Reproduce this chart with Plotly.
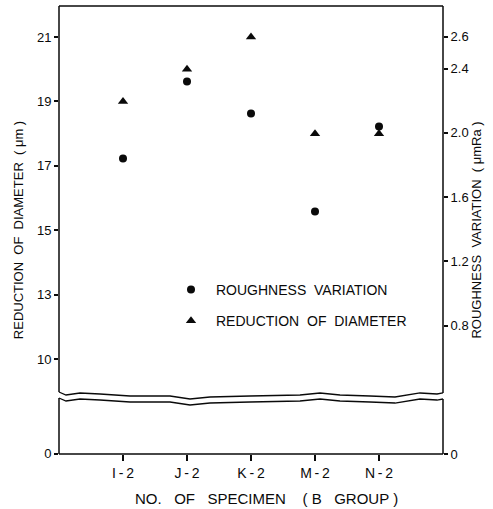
import plotly.graph_objects as go

specimens = ["I-2", "J-2", "K-2", "M-2", "N-2"]
specimen_labels = ["I\u2009-\u20092", "J\u2009-\u20092", "K\u2009-\u20092", "M\u2009-\u20092", "N\u2009-\u20092"]
diameter = [19, 20, 21, 18, 18]            # reduction of diameter (um), left axis
roughness = [1.84, 2.32, 2.12, 1.51, 2.04]  # roughness variation (umRa), right axis

left_ticks = [21, 19, 17, 15, 13, 11, 8.07]
left_text = ["21", "19", "17", "15", "13", "10", "0"]
right_ticks = [2.6, 2.4, 2.0, 1.6, 1.2, 0.8, 0.0]
right_text = ["2.6", "2.4", "2.0", "1.6", "1.2", "0.8", "0"]

FONT = "Liberation Sans"
INK = "#0a0a0a"

# plot area in pixels (for placing decorations)
L, R, T, B = 59, 443, 6, 454


def px(x):
    return (x - L) / (R - L)


def py(y):
    return (B - y) / (B - T)


fig = go.Figure()
fig.add_trace(go.Scatter(
    x=specimens, y=roughness, yaxis="y2", mode="markers",
    name="ROUGHNESS\u00a0 VARIATION", legendgroup="a",
    marker=dict(symbol="circle", size=8, color=INK),
))
fig.add_trace(go.Scatter(
    x=specimens, y=diameter, mode="markers",
    name="REDUCTION\u00a0 OF\u00a0 DIAMETER", legendgroup="b",
    marker=dict(symbol="triangle-up", size=9, color=INK),
))

# frame + axis break (wavy double line)
wave = [(59, 392), (66, 395), (80, 393), (100, 394), (130, 396), (170, 396),
        (190, 399), (210, 397), (250, 396), (300, 395), (320, 393), (340, 395),
        (370, 396), (395, 397), (420, 393), (437, 394), (443, 393)]
gap = 6


def wave_path(dy):
    pts = [f"{px(x):.4f},{py(y + dy):.4f}" for x, y in wave]
    return "M " + " L ".join(pts)


line = dict(color=INK, width=1.5)
shapes = [
    dict(type="line", xref="paper", yref="paper", x0=0, x1=1, y0=1, y1=1, line=line),
    dict(type="line", xref="paper", yref="paper", x0=0, x1=1, y0=0, y1=0, line=line),
    dict(type="line", xref="paper", yref="paper", x0=0, x1=0, y0=1, y1=py(392), line=line),
    dict(type="line", xref="paper", yref="paper", x0=0, x1=0, y0=py(392 + gap), y1=0, line=line),
    dict(type="line", xref="paper", yref="paper", x0=1, x1=1, y0=1, y1=py(393), line=line),
    dict(type="line", xref="paper", yref="paper", x0=1, x1=1, y0=py(393 + gap), y1=0, line=line),
    dict(type="path", xref="paper", yref="paper", path=wave_path(0), line=dict(color=INK, width=1.3)),
    dict(type="path", xref="paper", yref="paper", path=wave_path(gap), line=dict(color=INK, width=1.3)),
]

tickfont = dict(family=FONT, size=13, color=INK)
titlefont = dict(family=FONT, size=13, color=INK)

fig.add_annotation(
    text="NO.\u00a0\u00a0 OF\u00a0\u00a0 SPECIMEN\u00a0\u00a0\u00a0 (\u00a0B\u00a0\u00a0 GROUP\u00a0)",
    xref="paper", yref="paper", x=px(266), y=py(498),
    showarrow=False, xanchor="center", yanchor="middle",
    font=dict(family=FONT, size=15, color=INK),
)

fig.update_layout(
    width=493, height=509,
    margin=dict(l=L, r=493 - R, t=T, b=509 - B),
    paper_bgcolor="white", plot_bgcolor="white",
    shapes=shapes,
    showlegend=True,
    legend=dict(
        x=px(166), y=py(274), xanchor="left", yanchor="top",
        bgcolor="rgba(0,0,0,0)", font=dict(family=FONT, size=14, color=INK),
        traceorder="grouped", tracegroupgap=10, itemwidth=40,
    ),
    xaxis=dict(
        range=[-1, 5], showgrid=False, zeroline=False, showline=False,
        tickvals=specimens, ticktext=specimen_labels,
        ticks="outside", ticklen=6, tickwidth=1.5, tickcolor=INK,
        tickfont=dict(family=FONT, size=14, color=INK),
    ),
    yaxis=dict(
        range=[8.06, 21.96], showgrid=False, zeroline=False, showline=False,
        tickvals=left_ticks, ticktext=left_text,
        ticks="outside", ticklen=4, tickwidth=1.5, tickcolor=INK,
        tickfont=tickfont,
        title=dict(text="REDUCTION\u00a0 OF\u00a0 DIAMETER\u00a0 ( \u03bcm )", font=titlefont, standoff=10),
    ),
    yaxis2=dict(
        range=[0, 2.79], overlaying="y", side="right",
        showgrid=False, zeroline=False, showline=False,
        tickvals=right_ticks, ticktext=right_text,
        ticks="outside", ticklen=4, tickwidth=1.5, tickcolor=INK,
        tickfont=tickfont,
        title=dict(text="ROUGHNESS\u00a0 VARIATION\u00a0 ( \u03bcmRa )", font=titlefont, standoff=4),
    ),
)

fig.write_html(
    "out.html",
    config={"displayModeBar": False},
    post_script="document.body.style.margin='0';document.body.style.padding='0';",
)
